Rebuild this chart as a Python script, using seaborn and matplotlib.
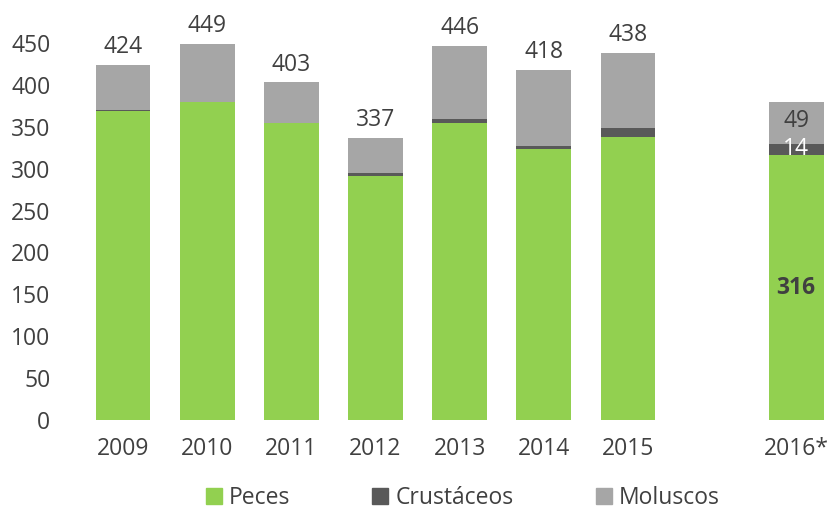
import pandas as pd
import seaborn as sns
import matplotlib.pyplot as plt
from matplotlib.patches import Patch

years = ['2009', '2010', '2011', '2012', '2013', '2014', '2015', '2016*']
peces = [369, 379, 354, 291, 355, 323, 338, 316]
crustaceos = [1, 1, 1, 4, 4, 4, 10, 14]
moluscos = [54, 69, 48, 42, 87, 91, 90, 49]
totals = [424, 449, 403, 337, 446, 418, 438, 379]

order = years[:7] + [' '] + years[7:]

df = pd.DataFrame({'year': years, 'peces': peces,
                   'crustaceos': crustaceos, 'moluscos': moluscos})
df['peces_crust'] = df['peces'] + df['crustaceos']
df['total'] = df['peces_crust'] + df['moluscos']

sns.set_style('white')
plt.rcParams['font.family'] = ['Open Sans', 'DejaVu Sans']

c_green = '#92D050'
c_dark = '#595959'
c_grey = '#A6A6A6'
txt = '#404040'
fs = 16.5

fig = plt.figure(figsize=(8.29, 5.12), dpi=100)
ax = fig.add_axes([81 / 829, 1 - 420 / 512, 748 / 829, 377 / 512])

# stacked look: draw cumulative heights on top of each other
for col, c in [('total', c_grey), ('peces_crust', c_dark), ('peces', c_green)]:
    sns.barplot(data=df, x='year', y=col, order=order, color=c,
                width=0.65, saturation=1, linewidth=0, ax=ax)

ax.set_ylim(0, 450)
ax.set_xlim(-0.5, 8.39)
ax.set_yticks(range(0, 451, 50))
ax.set_xlabel('')
ax.set_ylabel('')
sns.despine(ax=ax, left=True, bottom=True)
ax.tick_params(axis='both', length=0, labelsize=fs, colors=txt)
ax.tick_params(axis='x', pad=12)
ax.tick_params(axis='y', pad=22)

# totals above bars (not for the last one)
for i, t in enumerate(totals[:7]):
    ax.text(i, t + 7, str(t), ha='center', va='bottom', fontsize=fs,
            color=txt, clip_on=False)

# segment labels for 2016*
xi = order.index('2016*')
ax.text(xi, peces[7] / 2, str(peces[7]), ha='center', va='center',
        fontsize=fs, fontweight='bold', color=txt)
ax.text(xi, peces[7] + crustaceos[7] / 2, str(crustaceos[7]), ha='center',
        va='center', fontsize=fs, color='white')
ax.text(xi, peces[7] + crustaceos[7] + moluscos[7] / 2 + 2, str(moluscos[7]),
        ha='center', va='center', fontsize=fs, color=txt)

handles = [Patch(color=c_green, label='Peces'),
           Patch(color=c_dark, label='Crustáceos'),
           Patch(color=c_grey, label='Moluscos')]
fig.legend(handles=handles, loc='center', bbox_to_anchor=(0.558, 0.027),
           ncol=3, frameon=False, fontsize=fs, handlelength=0.7,
           handleheight=0.7, handletextpad=0.3, columnspacing=3.6,
           labelcolor=txt)

fig.savefig('out.png', dpi=100)
